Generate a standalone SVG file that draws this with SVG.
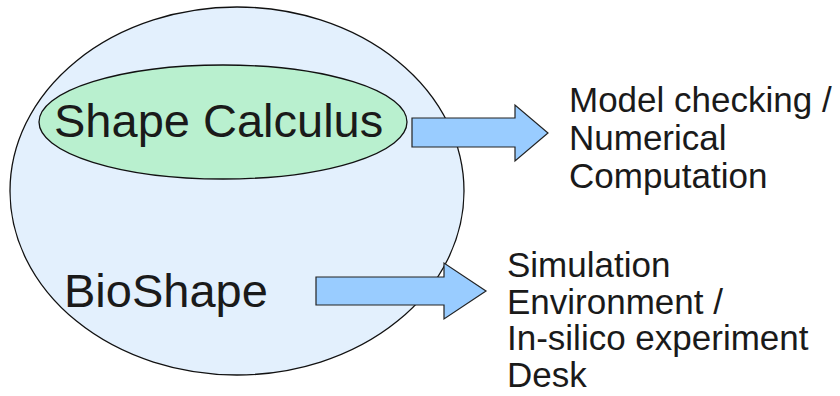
<svg xmlns="http://www.w3.org/2000/svg" width="840" height="396" viewBox="0 0 840 396">
<style>
.lbl{font-family:"Liberation Sans",Arial,sans-serif;fill:#1a1a1a}
.big{font-size:47px}
.med{font-size:35px}
.arrow{fill:#99ccff;stroke:#222;stroke-width:1.2;stroke-linejoin:miter}
.ell{stroke:#111;stroke-width:1.3}
</style>
<rect width="840" height="396" fill="#ffffff"/>
<g id="bioshape">
<ellipse class="ell" cx="237" cy="191" rx="227" ry="184" fill="#e3f0fd"/>
<text class="lbl big" x="64" y="307">BioShape</text>
</g>
<g id="shape-calculus">
<ellipse class="ell" cx="223" cy="122" rx="184" ry="57" fill="#b9f0cf"/>
<text class="lbl big" x="54" y="137">Shape Calculus</text>
</g>
<g id="connectors">
<polygon class="arrow" points="412,118 515,118 515,105 548,133 515,161 515,147 412,147"/>
<polygon class="arrow" points="316,277 444,277 444,263 486,291 444,319 444,305 316,305"/>
</g>
<g id="model-checking">
<text class="lbl med" x="569"><tspan x="569" y="112">Model checking /</tspan><tspan x="569" y="150">Numerical</tspan><tspan x="569" y="188">Computation</tspan></text>
</g>
<g id="simulation">
<text class="lbl med" x="507"><tspan x="507" y="277">Simulation</tspan><tspan x="507" y="314">Environment /</tspan><tspan x="507" y="350">In-silico experiment</tspan><tspan x="507" y="387">Desk</tspan></text>
</g>
</svg>
